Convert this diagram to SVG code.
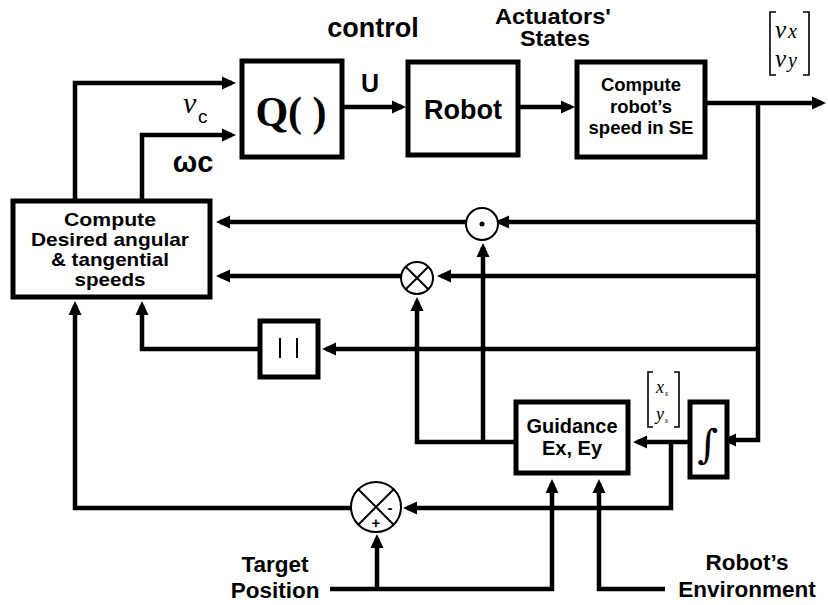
<svg xmlns="http://www.w3.org/2000/svg" width="828" height="605" viewBox="0 0 828 605">
<defs>
<marker id="arr" markerUnits="userSpaceOnUse" markerWidth="16" markerHeight="14" refX="10" refY="7" orient="auto">
<path d="M0,0.5 L14,7 L0,13.5 z" fill="#000"/>
</marker>
<style>
.box{fill:#fff;stroke:#000;stroke-width:5}
.cir{fill:#fff;stroke:#000;stroke-width:2}
.ln{fill:none;stroke:#000;stroke-width:4.5;marker-end:url(#arr)}
.thin{fill:none;stroke:#000;stroke-width:2}
.brk{fill:none;stroke:#000;stroke-width:1.6}
.t{font-family:"Liberation Sans",Arial,sans-serif;font-weight:bold;fill:#000;text-anchor:middle}
.s{font-family:"Liberation Serif","Times New Roman",serif;font-style:italic;fill:#000}
</style>
</defs>
<rect width="828" height="605" fill="#fff"/>
<g id="connectors">
<path class="ln" d="M75,201 V83 H232"/>
<path class="ln" d="M142,201 V135 H232"/>
<path class="ln" d="M342,107 H402"/>
<path class="ln" d="M518,107 H571"/>
<path class="ln" d="M705,103 H822"/>
<path class="ln" d="M758,103 V440 H726"/>
<path class="ln" d="M758,222 H499"/>
<path class="ln" d="M466,222 H220"/>
<path class="ln" d="M758,276 H441"/>
<path class="ln" d="M401,276 H220"/>
<path class="ln" d="M758,349 H326"/>
<path class="ln" d="M260,349 H142 V305"/>
<path class="ln" d="M690,442 H637"/>
<path class="ln" d="M671,442 V508 H407"/>
<path class="ln" d="M351,508 H75 V305"/>
<path class="ln" d="M516,442 H417 V301"/>
<path class="ln" d="M483,442 V247"/>
<path class="ln" d="M330,589 H552 V483"/>
<path class="ln" d="M377,589 V538"/>
<path class="ln" d="M665,589 H599 V483"/>
</g>
<g id="q">
<rect class="box" x="242" y="61" width="100" height="96"/>
<text x="291" y="126" style="font-family:'Liberation Serif','Times New Roman',serif;font-weight:bold;font-size:42px;text-anchor:middle">Q( )</text>
</g>
<g id="robot">
<rect class="box" x="408" y="62" width="110" height="93"/>
<text class="t" x="463" y="119" font-size="27">Robot</text>
</g>
<g id="speed">
<rect class="box" x="577" y="62" width="128" height="95"/>
<text class="t" x="641" y="91" font-size="18.5">Compute</text>
<text class="t" x="641" y="113" font-size="18.5">robot’s</text>
<text class="t" x="641" y="134" font-size="18.5">speed in SE</text>
</g>
<g id="desired">
<rect class="box" x="13" y="201" width="197" height="96"/>
<text class="t" x="110" y="226" font-size="18.5" textLength="92" lengthAdjust="spacingAndGlyphs">Compute</text>
<text class="t" x="110" y="246" font-size="18.5" textLength="158" lengthAdjust="spacingAndGlyphs">Desired angular</text>
<text class="t" x="110" y="266" font-size="18.5" textLength="118" lengthAdjust="spacingAndGlyphs">&amp; tangential</text>
<text class="t" x="110" y="286" font-size="18.5" textLength="71" lengthAdjust="spacingAndGlyphs">speeds</text>
</g>
<g id="abs">
<rect class="box" x="260" y="321" width="58" height="56"/>
<line class="thin" x1="280" y1="338" x2="280" y2="358"/>
<line class="thin" x1="297" y1="338" x2="297" y2="358"/>
</g>
<g id="guidance">
<rect class="box" x="516" y="402" width="112" height="71"/>
<text class="t" x="572" y="433" font-size="20">Guidance</text>
<text class="t" x="572" y="455" font-size="20">Ex, Ey</text>
</g>
<g id="integrator">
<rect class="box" x="690" y="402" width="37" height="75"/>
<text x="708" y="458" style="font-family:'DejaVu Serif',serif;font-size:40px;text-anchor:middle">∫</text>
</g>
<g id="dot">
<circle class="cir" cx="482" cy="224" r="16"/>
<circle cx="482" cy="224" r="2.5" fill="#000"/>
</g>
<g id="mult">
<circle class="cir" cx="417" cy="278" r="16"/>
<path class="thin" d="M406,267 L428,289 M428,267 L406,289"/>
</g>
<g id="sum">
<circle class="cir" cx="376" cy="507" r="25"/>
<path class="thin" d="M358.3,489.3 L393.7,524.7 M393.7,489.3 L358.3,524.7"/>
<text class="t" x="390" y="513" font-size="15">-</text>
<text class="t" x="376" y="528" font-size="15">+</text>
</g>
<g id="labels">
<text class="t" x="373" y="37" font-size="27">control</text>
<text class="t" x="553" y="24" font-size="21.5" textLength="116" lengthAdjust="spacingAndGlyphs">Actuators'</text>
<text class="t" x="555" y="46" font-size="21.5" textLength="70" lengthAdjust="spacingAndGlyphs">States</text>
<text class="t" x="370" y="92" font-size="25">U</text>
<text class="s" x="183" y="113" font-size="30">ν</text>
<text x="198" y="123" style="font-family:'Liberation Sans',Arial,sans-serif;font-size:19px">c</text>
<text class="t" x="193" y="172" font-size="29">ωc</text>
<text class="t" x="275" y="572" font-size="22.5">Target</text>
<text class="t" x="275" y="598" font-size="22.5">Position</text>
<text class="t" x="747" y="570" font-size="22.5">Robot’s</text>
<text class="t" x="747" y="597" font-size="22.5">Environment</text>
<path class="brk" d="M776,12 H770 V75 H776 M803,12 H809 V75 H803"/>
<text class="s" x="775" y="38" font-size="25">ν</text>
<text class="s" x="788" y="38" font-size="20">x</text>
<text class="s" x="775" y="67" font-size="25">ν</text>
<text class="s" x="788" y="67" font-size="20">y</text>
<path class="brk" d="M653,372 H648 V427 H653 M674,372 H679 V427 H674"/>
<text class="s" x="656" y="393" font-size="18">x</text>
<text class="s" x="665" y="396" font-size="8">s</text>
<text class="s" x="656" y="420" font-size="18">y</text>
<text class="s" x="665" y="423" font-size="8">s</text>
</g>
</svg>
